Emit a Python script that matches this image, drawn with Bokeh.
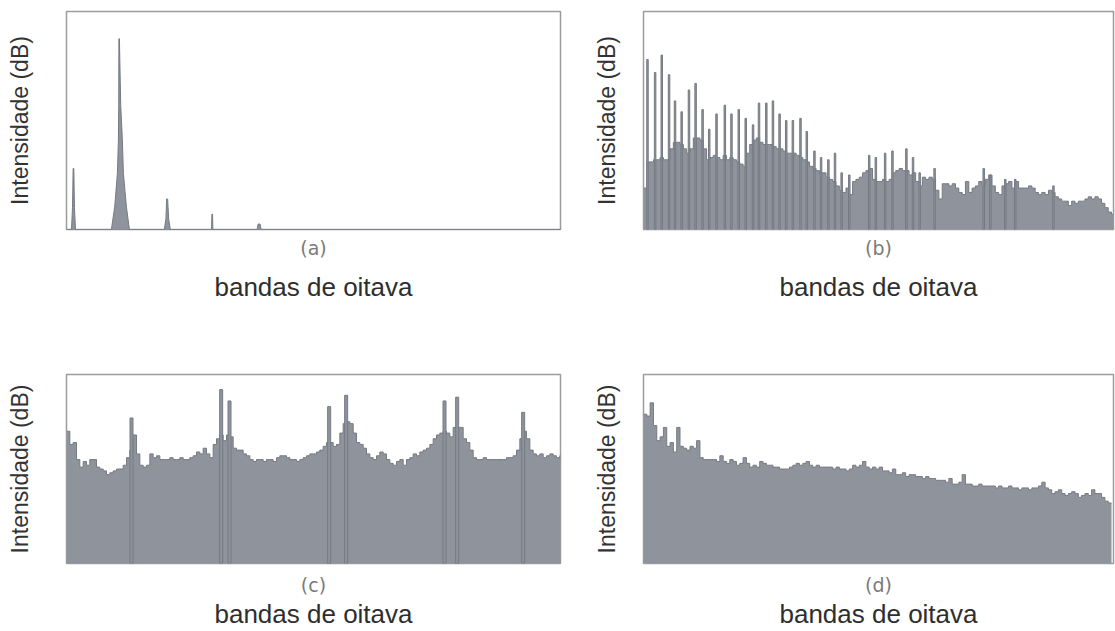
from bokeh.plotting import figure
from bokeh.layouts import gridplot
from bokeh.models import LinearAxis, Range1d, FixedTicker
from bokeh.embed import file_html
from bokeh.resources import INLINE

# ---------------- data (x: octave-band bin index, y: relative level %) ----------------
# (a) pure tones: outline of the narrow peaks
a_x = [0, 1.5, 1.8, 2.0, 2.2, 2.4, 2.7,
       13.5, 14.5, 15.3, 15.6, 15.7, 15.75, 15.9, 16.3, 16.8, 17.1, 18.0, 18.9,
       29.4, 29.9, 30.1, 30.4, 30.7, 31.2,
       43.6, 43.7, 43.9, 44.0,
       57.3, 57.6, 58.2, 58.5, 149]
a_y = [0, 0, 10, 28, 28, 10, 0,
       0, 10.6, 25.8, 41, 57, 87.5, 87.5, 57, 41, 25.8, 10.6, 0,
       0, 5, 14, 14, 5, 0,
       0, 7, 7, 0,
       0, 2.5, 2.5, 0, 0]

# (b) background level per bin + harmonic spikes
b_base = [19, 31, 31, 32, 32, 33, 32, 32, 37, 40, 40, 39, 37, 35, 37, 42, 42, 41, 37, 32,
          33, 34, 33, 32, 34, 32, 33, 32, 31, 30, 29, 35, 39, 41, 42, 40, 39, 39, 39, 38,
          37, 37, 36, 35, 35, 35, 34, 33, 32, 31, 29, 28, 27, 26, 26, 24, 23, 22, 20, 18,
          17, 19, 16, 22, 23, 24, 26, 27, 28, 23, 22, 22, 23, 22, 23, 26, 27, 28, 27, 27,
          25, 26, 22, 20, 24, 23, 24, 23, 18, 14, 21, 21, 20, 21, 19, 17, 16, 22, 17, 19,
          20, 22, 20, 23, 25, 20, 17, 16, 20, 21, 22, 19, 22, 19, 19, 19, 20, 19, 17, 16,
          17, 16, 18, 17, 15, 14, 13, 13, 11, 13, 12, 13, 13, 14, 15, 14, 15, 14, 12, 10,
          8, 7]
b_spike_x = [1.2, 3.5, 5.5, 7.7, 9.5, 11.5, 13.7, 15.7, 17.8, 19.8, 22.0, 24.5, 26.5, 28.7,
             30.8, 33.0, 34.8, 37.0, 39.0, 41.0, 43.0, 45.0, 47.3, 49.2, 51.5, 53.5, 55.7,
             57.7, 59.7, 62.0, 68.0, 70.0, 72.8, 75.0, 79.2, 81.2, 83.2, 87.7, 102.5, 104.5,
             109.0, 112.0, 123.5]
b_spike_y = [78, 72, 80, 71, 59, 54, 64, 67, 55, 46, 53, 57, 53, 55, 51, 48, 58, 58, 59, 53,
             50, 50, 51, 45, 36, 33, 32, 35, 26, 25, 34, 33, 35, 36, 37, 33, 26, 28, 28, 25,
             23, 23, 20]

# (c) background level per bin + partial spikes
c_base = [70, 63, 64, 55, 51, 54, 52, 55, 55, 51, 50, 49, 47, 48, 49, 50, 50, 52, 56, 60,
          68, 58, 52, 51, 52, 58, 56, 57, 55, 55, 55, 56, 55, 55, 56, 55, 55, 56, 57, 59,
          58, 61, 58, 56, 63, 66, 68, 65, 68, 67, 61, 60, 60, 58, 57, 55, 54, 55, 55, 54,
          55, 55, 54, 56, 57, 57, 56, 55, 55, 54, 55, 56, 57, 58, 58, 59, 60, 62, 64, 64,
          62, 63, 69, 74, 75, 74, 69, 64, 63, 61, 58, 56, 55, 57, 59, 58, 55, 53, 52, 54,
          55, 52, 55, 56, 58, 57, 59, 60, 61, 63, 66, 68, 69, 70, 69, 67, 72, 72, 72, 66,
          64, 60, 56, 55, 55, 56, 55, 55, 55, 55, 55, 55, 56, 56, 57, 60, 66, 70, 66, 60,
          58, 57, 58, 56, 57, 58, 57, 56, 57]
c_spike_x = [19.5, 46.4, 48.9, 78.8, 83.9, 113.4, 117.2, 137.0]
c_spike_y = [77, 92, 86, 83, 89, 86, 88, 80]

# (d) broadband noise
d_base = [79, 78, 85, 73, 65, 67, 72, 62, 64, 59, 72, 62, 61, 60, 62, 61, 65, 56, 55, 55,
          55, 55, 54, 57, 54, 53, 55, 54, 52, 53, 56, 53, 51, 52, 51, 54, 53, 52, 52, 51,
          51, 50, 50, 50, 51, 52, 53, 52, 53, 54, 52, 51, 52, 51, 51, 51, 51, 50, 51, 50,
          50, 49, 50, 52, 51, 52, 54, 51, 50, 51, 50, 51, 49, 49, 48, 50, 47, 47, 48, 46,
          47, 47, 46, 46, 45, 46, 45, 45, 44, 44, 44, 43, 45, 42, 42, 43, 47, 42, 42, 41,
          41, 42, 41, 41, 41, 41, 40, 41, 40, 40, 41, 40, 40, 39, 40, 40, 39, 40, 40, 41,
          43, 40, 39, 37, 38, 39, 37, 36, 37, 38, 37, 35, 36, 37, 36, 39, 37, 37, 35, 33,
          32]

letters = ["(a)", "(b)", "(c)", "(d)"]
x_title = "bandas de oitava"
y_title = "Intensidade (dB)"

FILL = "#8e939c"
EDGE = "#767a83"
FRAME = "#9c9c9c"


def make_panel(width, height, bl, bt, br, bb, nbins, letter, s_letter, s_title, s_y):
    p = figure(width=width, height=height, x_range=Range1d(0, nbins), y_range=Range1d(0, 100),
               output_backend="svg", toolbar_location=None,
               x_axis_location=None, y_axis_location=None,
               min_border_left=bl, min_border_top=bt, min_border_right=br, min_border_bottom=bb)
    p.grid.visible = False
    p.outline_line_color = FRAME
    p.outline_line_width = 1.5
    p.background_fill_color = "white"
    p.border_fill_color = "white"

    def bare(ax):
        ax.ticker = FixedTicker(ticks=[])
        ax.axis_line_color = None
        ax.major_tick_line_color = None
        ax.minor_tick_line_color = None
        ax.major_tick_out = 0
        ax.minor_tick_out = 0
        ax.major_label_standoff = 0
        ax.major_label_text_font_size = "0px"
        return ax

    ax1 = bare(LinearAxis(axis_label=letter))
    ax1.axis_label_text_font = "DejaVu Sans"
    ax1.axis_label_text_font_size = "19px"
    ax1.axis_label_text_font_style = "normal"
    ax1.axis_label_text_color = "#7a7a7a"
    ax1.axis_label_standoff = s_letter
    p.add_layout(ax1, "below")

    ax2 = bare(LinearAxis(axis_label=x_title))
    ax2.axis_label_text_font = "Liberation Sans"
    ax2.axis_label_text_font_size = "26px"
    ax2.axis_label_text_font_style = "normal"
    ax2.axis_label_text_color = "#2e2e2e"
    ax2.axis_label_standoff = s_title
    p.add_layout(ax2, "below")

    ay = bare(LinearAxis(axis_label=y_title))
    ay.axis_label_text_font = "Liberation Sans"
    ay.axis_label_text_font_size = "23px"
    ay.axis_label_text_font_style = "normal"
    ay.axis_label_text_color = "#333333"
    ay.axis_label_standoff = s_y
    p.add_layout(ay, "left")
    return p


def step_area(p, vals):
    xs = list(range(len(vals) + 1))
    ys = list(vals) + [vals[-1]]
    p.varea_step(x=xs, y1=[0] * len(xs), y2=ys, step_mode="after", fill_color=FILL)
    p.step(x=xs, y=ys, mode="after", line_color=EDGE, line_width=1)


# layout geometry (page has no margin: whole 1115 x 631 window)
TOP_H, BOT_H = 370, 261
LEFT_W, RIGHT_W = 590, 525

pa = make_panel(LEFT_W, TOP_H, 65, 11, 30, 141, 148.5, letters[0], 7, 10, 34)
pa.patch(a_x, a_y, fill_color=FILL, line_color=EDGE, line_width=1)

pb = make_panel(RIGHT_W, TOP_H, 51, 11, 2, 141, 141.6, letters[1], 7, 10, 24)
step_area(pb, b_base)
pb.vbar(x=b_spike_x, top=b_spike_y, bottom=0, width=0.45, fill_color=FILL, line_color=EDGE, line_width=1)

pc = make_panel(LEFT_W, BOT_H, 66, 4, 30, 68, 148.2, letters[2], 10, 0, 34)
step_area(pc, c_base)
pc.vbar(x=c_spike_x, top=c_spike_y, bottom=0, width=0.9, fill_color=FILL, line_color=EDGE, line_width=1)

pd = make_panel(RIGHT_W, BOT_H, 51, 4, 2, 68, 141.6, letters[3], 10, 0, 24)
step_area(pd, d_base)

grid = gridplot([[pa, pb], [pc, pd]], toolbar_location=None)

open("out.html", "w").write(file_html(grid, INLINE))
